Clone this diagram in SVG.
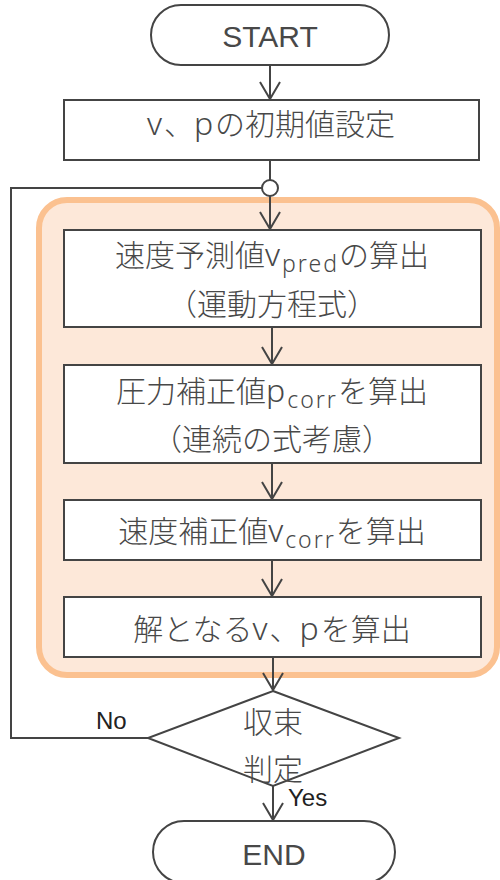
<svg xmlns="http://www.w3.org/2000/svg" width="500" height="880" viewBox="0 0 500 880">
<defs>
<style>
.shape{fill:#fff;stroke:#444;stroke-width:2}
.line{fill:none;stroke:#444;stroke-width:2}
.jp{font-family:"Noto Sans CJK JP","Noto Sans",sans-serif;font-size:30px;font-weight:300;fill:#484848;text-anchor:middle}
.la{font-family:"Noto Sans","DejaVu Sans",sans-serif;font-size:32px;font-weight:300;letter-spacing:2px}
.lat{font-family:"Liberation Sans",Arial,sans-serif;font-size:30px;fill:#484848;text-anchor:middle}
.lbl{font-family:"Liberation Sans",Arial,sans-serif;font-size:24px;fill:#222}
.sub{font-family:"Noto Sans","DejaVu Sans",sans-serif;font-size:23px;font-weight:300;letter-spacing:2px}
</style>
<marker id="ah" markerWidth="24" markerHeight="24" refX="20" refY="12" orient="auto" markerUnits="userSpaceOnUse">
<path d="M3,2 L20,12 L3,22" fill="none" stroke="#444" stroke-width="2"/>
</marker>
</defs>
<rect id="group-bg" x="39" y="200" width="458" height="475" rx="28" ry="28" fill="#FDE8D9" stroke="#FBC190" stroke-width="6"/>
<g id="connectors">
<line class="line" x1="270" y1="65" x2="270" y2="99" marker-end="url(#ah)"/>
<line class="line" x1="270" y1="160" x2="270" y2="180"/>
<line class="line" x1="270" y1="196" x2="270" y2="229" marker-end="url(#ah)"/>
<line class="line" x1="272" y1="327" x2="272" y2="364" marker-end="url(#ah)"/>
<line class="line" x1="272" y1="463" x2="272" y2="499" marker-end="url(#ah)"/>
<line class="line" x1="272" y1="560" x2="272" y2="596" marker-end="url(#ah)"/>
<line class="line" x1="273" y1="657" x2="273" y2="690" marker-end="url(#ah)"/>
<polyline class="line" points="148,738 11,738 11,188 262,188"/>
<line class="line" x1="273" y1="786" x2="273" y2="820" marker-end="url(#ah)"/>
<text class="lbl" x="96" y="729">No</text>
<text class="lbl" x="288" y="806">Yes</text>
</g>
<g id="start">
<rect class="shape" x="151" y="5" width="238" height="60" rx="30" ry="30"/>
<text class="lat" x="270" y="47">START</text>
</g>
<g id="init">
<rect class="shape" x="64" y="100" width="415" height="60"/>
<text class="jp" x="271" y="135"><tspan class="la">v</tspan>、<tspan class="la">p</tspan>の初期値設定</text>
</g>
<g id="merge">
<circle class="shape" cx="270" cy="188" r="8"/>
</g>
<g id="vpred">
<rect class="shape" x="64" y="230" width="417" height="97"/>
<text class="jp" x="272" y="266">速度予測値<tspan class="la">v</tspan><tspan class="sub" dy="6">pred</tspan><tspan dy="-6">の算出</tspan></text>
<text class="jp" x="272" y="315">（運動方程式）</text>
</g>
<g id="pcorr">
<rect class="shape" x="64" y="365" width="417" height="98"/>
<text class="jp" x="272" y="402">圧力補正値<tspan class="la">p</tspan><tspan class="sub" dy="6">corr</tspan><tspan dy="-6">を算出</tspan></text>
<text class="jp" x="272" y="450">（連続の式考慮）</text>
</g>
<g id="vcorr">
<rect class="shape" x="64" y="500" width="417" height="60"/>
<text class="jp" x="272" y="542">速度補正値<tspan class="la">v</tspan><tspan class="sub" dy="6">corr</tspan><tspan dy="-6">を算出</tspan></text>
</g>
<g id="solve">
<rect class="shape" x="64" y="597" width="417" height="60"/>
<text class="jp" x="272" y="640">解となる<tspan class="la">v</tspan>、<tspan class="la">p</tspan>を算出</text>
</g>
<g id="judge">
<polygon class="shape" points="273,691 399,738 273,786 148,738"/>
<text class="jp" x="273" y="733">収束</text>
<text class="jp" x="273" y="780">判定</text>
</g>
<g id="end">
<rect class="shape" x="153" y="821" width="242" height="62" rx="31" ry="31"/>
<text class="lat" x="274" y="865">END</text>
</g>
</svg>
